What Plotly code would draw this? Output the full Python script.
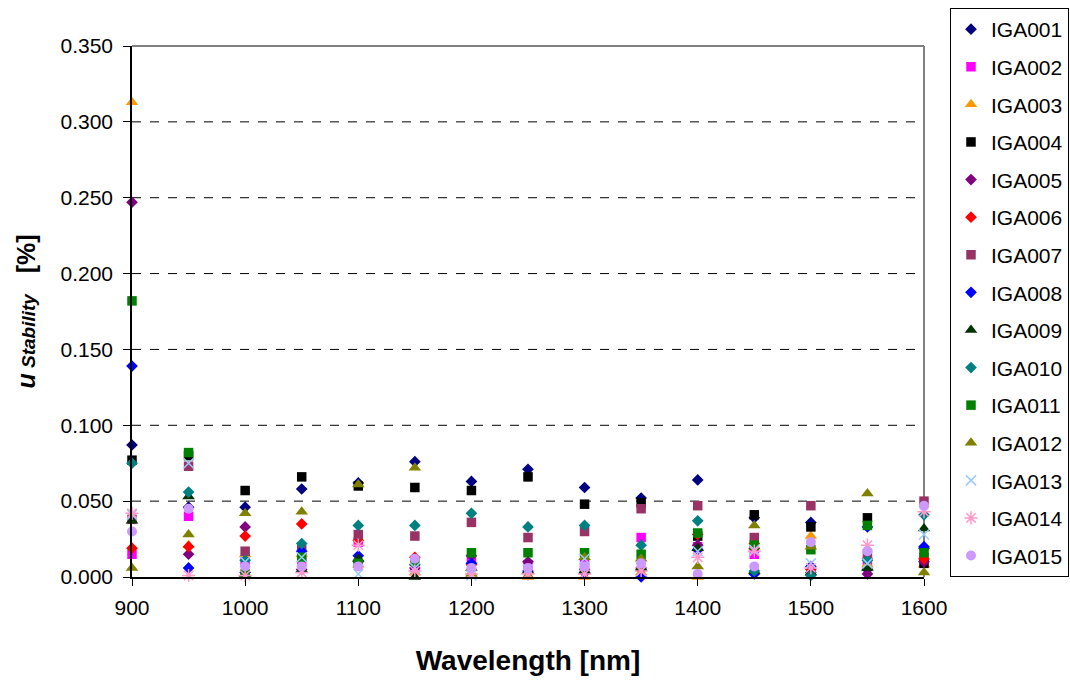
import plotly.graph_objects as go

wavelengths = [900, 950, 1000, 1050, 1100, 1150, 1200, 1250, 1300, 1350, 1400, 1450, 1500, 1550, 1600]

iga001 = [0.087, 0.046, 0.046, 0.058, 0.062, 0.076, 0.063, 0.071, 0.059, 0.052, 0.064, 0.039, 0.036, 0.005, 0.019]
iga002 = [0.015, 0.040, 0.010, 0.010, 0.023, 0.005, 0.011, 0.008, 0.009, 0.026, 0.020, 0.015, 0.004, 0.008, 0.013]
iga003 = [0.313, 0.021, 0.015, 0.015, 0.008, 0.003, 0.003, 0.000, 0.000, 0.003, 0.000, 0.020, 0.027, 0.008, 0.008]
iga004 = [0.077, 0.080, 0.057, 0.066, 0.060, 0.059, 0.057, 0.066, 0.048, 0.049, 0.027, 0.041, 0.033, 0.039, 0.009]
iga005 = [0.247, 0.015, 0.033, 0.005, 0.010, 0.006, 0.014, 0.010, 0.005, 0.006, 0.021, 0.019, 0.003, 0.002, 0.010]
iga006 = [0.019, 0.020, 0.027, 0.035, 0.024, 0.013, 0.008, 0.003, 0.003, 0.005, 0.028, 0.022, 0.005, 0.012, 0.012]
iga007 = [0.038, 0.073, 0.017, 0.018, 0.028, 0.027, 0.036, 0.026, 0.030, 0.045, 0.047, 0.026, 0.047, 0.015, 0.050]
iga008 = [0.139, 0.006, 0.003, 0.017, 0.014, 0.008, 0.009, 0.004, 0.003, 0.000, 0.018, 0.002, 0.007, 0.033, 0.020]
iga009 = [0.037, 0.053, 0.002, 0.005, 0.012, 0.000, 0.006, 0.004, 0.004, 0.006, 0.019, 0.004, 0.003, 0.006, 0.032]
iga010 = [0.075, 0.056, 0.011, 0.022, 0.034, 0.034, 0.042, 0.033, 0.034, 0.021, 0.037, 0.004, 0.001, 0.011, 0.041]
iga011 = [0.182, 0.082, 0.002, 0.013, 0.009, 0.010, 0.016, 0.016, 0.016, 0.015, 0.029, 0.021, 0.018, 0.034, 0.016]
iga012 = [0.006, 0.028, 0.042, 0.043, 0.061, 0.072, 0.002, 0.001, 0.013, 0.012, 0.007, 0.034, 0.020, 0.055, 0.003]
iga013 = [0.041, 0.075, 0.010, 0.013, 0.002, 0.006, 0.001, 0.005, 0.012, 0.004, 0.017, 0.018, 0.009, 0.009, 0.028]
iga014 = [0.042, 0.001, 0.001, 0.003, 0.021, 0.004, 0.002, 0.002, 0.002, 0.004, 0.013, 0.017, 0.006, 0.021, 0.043]
iga015 = [0.030, 0.045, 0.007, 0.007, 0.007, 0.012, 0.006, 0.006, 0.007, 0.009, 0.002, 0.007, 0.023, 0.017, 0.047]

y_ticks = [0.0, 0.05, 0.10, 0.15, 0.20, 0.25, 0.30, 0.35]
x_ticks = [900, 1000, 1100, 1200, 1300, 1400, 1500, 1600]

# name, values, symbol, colour, size
series = [
    ("IGA001", iga001, "diamond", "#000080", 9),
    ("IGA002", iga002, "square", "#FF00FF", 9.5),
    ("IGA003", iga003, "triangle-up", "#FF9900", 11),
    ("IGA004", iga004, "square", "#000000", 9.5),
    ("IGA005", iga005, "diamond", "#800080", 9),
    ("IGA006", iga006, "diamond", "#FF0000", 9),
    ("IGA007", iga007, "square", "#993366", 9.5),
    ("IGA008", iga008, "diamond", "#0000FF", 9),
    ("IGA009", iga009, "triangle-up", "#003300", 11),
    ("IGA010", iga010, "diamond", "#008080", 9),
    ("IGA011", iga011, "square", "#008000", 9.5),
    ("IGA012", iga012, "triangle-up", "#808000", 11),
    ("IGA013", iga013, "x-thin-open", "#99CCFF", 10),
    ("IGA014", iga014, "asterisk-open", "#FF99CC", 11),
    ("IGA015", iga015, "circle", "#CC99FF", 10),
]

FONT = "Liberation Sans, Arial, sans-serif"

fig = go.Figure()
for name, vals, sym, col, size in series:
    marker = dict(symbol=sym, color=col, size=size)
    if sym.endswith("open"):
        marker["line"] = dict(color=col, width=1.5)
    else:
        marker["line"] = dict(width=0)
    fig.add_trace(go.Scatter(
        x=wavelengths, y=vals, mode="markers", name=name,
        legendgroup=name, marker=marker, cliponaxis=False,
    ))

# dashed gridlines between 0.05 and 0.30
for v in y_ticks[1:-1]:
    fig.add_shape(type="line", xref="paper", yref="y", x0=0, x1=1, y0=v, y1=v,
                  line=dict(color="black", width=1, dash="dash"), layer="below")
# grey frame on top and right
fig.add_shape(type="line", xref="paper", yref="paper", x0=0, x1=1, y0=1, y1=1,
              line=dict(color="#808080", width=2), layer="below")
fig.add_shape(type="line", xref="paper", yref="paper", x0=1, x1=1, y0=0, y1=1,
              line=dict(color="#808080", width=2), layer="below")

fig.update_layout(
    width=1070, height=682,
    margin=dict(l=132, r=146, t=46, b=105, autoexpand=False),
    paper_bgcolor="white", plot_bgcolor="white",
    font=dict(family=FONT, size=21, color="black"),
    showlegend=True,
    legend=dict(
        xref="container", yref="container",
        x=950 / 1070, y=1 - 8 / 682, xanchor="left", yanchor="top",
        bordercolor="black", borderwidth=1,
        font=dict(family=FONT, size=21, color="black"),
        tracegroupgap=7.3, itemsizing="trace", maxheight=660,
    ),
    xaxis=dict(
        range=[900, 1600], tickvals=x_ticks, ticktext=[str(t) for t in x_ticks],
        showgrid=False, zeroline=False, showline=True, linecolor="black", linewidth=1.5,
        ticks="outside", ticklen=7, tickcolor="black", ticklabelstandoff=4,
        tickfont=dict(family=FONT, size=21, color="black"),
        title=dict(text="<b>Wavelength [nm]</b>", font=dict(family=FONT, size=28, color="black"),
                   standoff=32),
    ),
    yaxis=dict(
        range=[0, 0.35], tickvals=y_ticks, ticktext=[f"{t:.3f}" for t in y_ticks],
        showgrid=False, zeroline=False, showline=True, linecolor="black", linewidth=1.5,
        ticks="outside", ticklen=7, tickcolor="black", ticklabelstandoff=6,
        tickfont=dict(family=FONT, size=21, color="black"),
        title=dict(
            text="<b><i>u</i></b><b><i><span style='font-size:19px'> Stability</span></i></b>"
                 "   <b>[%]</b>",
            font=dict(family=FONT, size=25, color="black"), standoff=18,
        ),
    ),
)

fig.write_html("out.html")
